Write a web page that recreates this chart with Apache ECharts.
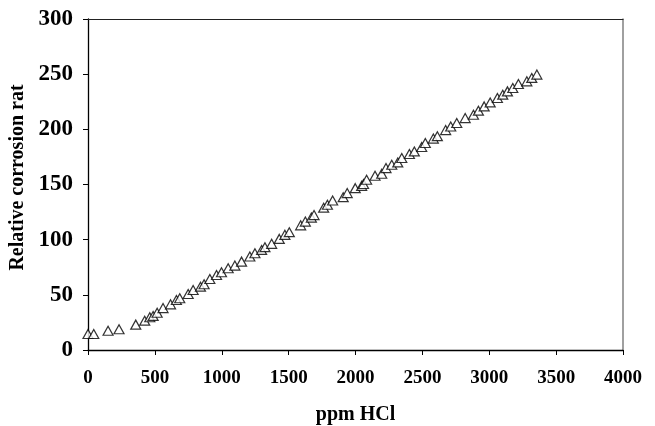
<!DOCTYPE html>
<html>
<head>
<meta charset="utf-8">
<script src="https://cdn.jsdelivr.net/npm/echarts@6/dist/echarts.min.js"></script>
<style>
  html, body { margin: 0; padding: 0; background: #fff; }
  #chart { width: 655px; height: 426px; }
</style>
</head>
<body>
<div id="chart"></div>
<script>
// 数据：HCl 浓度 (ppm) 与相对腐蚀速率
const ppmHCl = [
  0, 43, 150, 232, 357, 424, 462, 487, 517, 561,
  617, 661, 686, 749, 786, 841, 868, 911, 961, 998,
  1048, 1098, 1148, 1210, 1248, 1298, 1323, 1373, 1430, 1472,
  1505, 1590, 1625, 1670, 1690, 1762, 1790, 1829, 1908, 1938,
  1998, 2046, 2060, 2083, 2146, 2196, 2228, 2271, 2316, 2346,
  2403, 2440, 2495, 2522, 2582, 2612, 2674, 2712, 2757, 2820,
  2882, 2919, 2962, 3007, 3061, 3101, 3136, 3176, 3218, 3281,
  3318, 3356
];
const corrosionRate = [
  14.5, 14.5, 17.4, 18.8, 23, 26.6, 29.7, 30.9, 33.8, 38,
  41.4, 45.3, 46.9, 50.8, 54.4, 57.4, 59.6, 64.4, 68, 70.5,
  74.1, 76.5, 80.1, 84.7, 87.7, 90.7, 93.2, 96.2, 100.7, 104.4,
  106.8, 113, 116.4, 120, 122.3, 129, 131.6, 135.5, 138.5, 142.2,
  146.7, 148.8, 150.5, 154.3, 157.9, 159.7, 164.9, 167.9, 170, 174,
  177.6, 180, 184, 187.6, 191.6, 193.8, 199.3, 202.6, 205.7, 210.2,
  213.2, 216.9, 220.8, 224.4, 228.4, 231.4, 234.4, 237.5, 241.1, 243.5,
  246.6, 249.6
];
const xTicks = { min: 0, max: 4000, interval: 500 };
const yTicks = { min: 0, max: 300, interval: 50 };

const FONT = '"Liberation Serif", "Times New Roman", serif';
const points = ppmHCl.map((x, i) => [x, corrosionRate[i]]);

const chart = echarts.init(document.getElementById('chart'));

const option = {
  animation: false,
  backgroundColor: '#fff',
  grid: { left: 88, right: 32, top: 19, bottom: 76, outerBoundsMode: 'none' },
  xAxis: [
    {
      type: 'value',
      min: xTicks.min, max: xTicks.max, interval: xTicks.interval,
      name: 'ppm HCl',
      nameLocation: 'middle',
      nameGap: 55,
      nameTextStyle: { fontFamily: FONT, fontWeight: 'bold', fontSize: 20, color: '#000' },
      axisLine: { lineStyle: { color: '#000', width: 1.3 } },
      axisTick: { show: true, inside: false, length: 5, lineStyle: { color: '#000' } },
      axisLabel: {
        fontFamily: FONT, fontWeight: 'bold', fontSize: 19, color: '#000', margin: 19,
        formatter: v => String(v)
      },
      splitLine: { show: false }
    },
    {
      type: 'value', position: 'top',
      min: xTicks.min, max: xTicks.max,
      axisLine: { show: true, onZero: false, lineStyle: { color: '#222', width: 1.2 } },
      axisTick: { show: false }, axisLabel: { show: false }, splitLine: { show: false }
    }
  ],
  yAxis: [
    {
      type: 'value',
      min: yTicks.min, max: yTicks.max, interval: yTicks.interval,
      name: 'Relative corrosion rate',
      nameLocation: 'middle',
      nameGap: 56,
      nameTruncate: { maxWidth: 194, ellipsis: '' },
      nameTextStyle: {
        fontFamily: FONT, fontWeight: 'bold', fontSize: 20, color: '#000',
        padding: [0, 0, 0, 14]
      },
      axisLine: { show: true, lineStyle: { color: '#000', width: 1.3 } },
      axisTick: { show: true, inside: false, length: 5, lineStyle: { color: '#000' } },
      axisLabel: {
        fontFamily: FONT, fontWeight: 'bold', fontSize: 23, color: '#000', margin: 15,
        formatter: v => String(v)
      },
      splitLine: { show: false }
    },
    {
      type: 'value', position: 'right',
      min: yTicks.min, max: yTicks.max,
      axisLine: { show: true, onZero: false, lineStyle: { color: '#808080', width: 1.5 } },
      axisTick: { show: false }, axisLabel: { show: false }, splitLine: { show: false }
    }
  ],
  series: [
    {
      type: 'scatter',
      data: points,
      symbol: 'triangle',
      symbolSize: [10, 9],
      itemStyle: { color: '#fff', borderColor: '#000', borderWidth: 1.2 }
    }
  ]
};

chart.setOption(option);
</script>
</body>
</html>
